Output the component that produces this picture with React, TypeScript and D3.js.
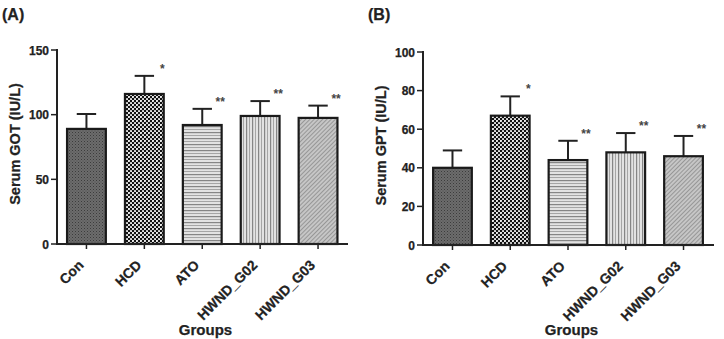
import React from "react";
import * as d3 from "d3";

const groups = ["Con", "HCD", "ATO", "HWND_G02", "HWND_G03"];
const gotMeans = [89, 116, 92, 99, 97.5];
const gotSD = [11.5, 14, 12.5, 11.5, 9.5];
const gptMeans = [40, 67, 44, 48, 46];
const gptSD = [9, 10, 10, 10, 10.5];
const sigMarks = ["", "*", "**", "**", "**"];
const gotTicks = [0, 50, 100, 150];
const gptTicks = [0, 20, 40, 60, 80, 100];

const FONT = "'Liberation Sans', Arial, sans-serif";
const patternIds = ["pCon", "pHCD", "pATO", "pG02", "pG03"];

function Patterns() {
  return (
    <defs>
      <pattern id="pCon" width="3" height="3" patternUnits="userSpaceOnUse">
        <rect width="3" height="3" fill="#6c6c6c" />
        <rect x="0" y="0" width="1" height="1" fill="#3c3c3c" />
        <rect x="1.5" y="1.5" width="1" height="1" fill="#4a4a4a" />
      </pattern>
      <pattern id="pHCD" width="4" height="4" patternUnits="userSpaceOnUse">
        <rect width="4" height="4" fill="#111" />
        <circle cx="1" cy="1" r="1.05" fill="#fff" />
        <circle cx="3" cy="3" r="1.05" fill="#eee" />
      </pattern>
      <pattern id="pATO" width="6" height="6" patternUnits="userSpaceOnUse">
        <rect width="6" height="6" fill="#e2e2e2" />
        <rect x="0" y="0" width="6" height="1.2" fill="#858585" />
        <rect x="0" y="3" width="6" height="1" fill="#a5a5a5" />
      </pattern>
      <pattern id="pG02" width="6" height="6" patternUnits="userSpaceOnUse">
        <rect width="6" height="6" fill="#e2e2e2" />
        <rect x="0" y="0" width="1.2" height="6" fill="#858585" />
        <rect x="3" y="0" width="1" height="6" fill="#a5a5a5" />
      </pattern>
      <pattern id="pG03" width="3" height="3" patternUnits="userSpaceOnUse" patternTransform="rotate(45)">
        <rect width="3" height="3" fill="#c6c6c6" />
        <rect x="0" y="0" width="1" height="3" fill="#979797" />
      </pattern>
    </defs>
  );
}

type PanelProps = {
  label: string;
  yTitle: string;
  means: number[];
  sds: number[];
  ticks: number[];
  yMax: number;
  axisX: number;
  axisEnd: number;
  yTop: number;
  yBottom: number;
  r0: number;
  r1: number;
};

function Panel(p: PanelProps) {
  const y = d3.scaleLinear().domain([0, p.yMax]).range([p.yBottom, p.yTop]);
  const x = d3.scaleBand<string>().domain(groups).range([p.r0, p.r1]).paddingInner(0.33).paddingOuter(0.165);
  const bw = x.bandwidth();
  const midY = (p.yTop + p.yBottom) / 2;
  const groupsX = (p.axisX + p.axisEnd) / 2 + 3;
  return (
    <g fontFamily={FONT} fontWeight="bold" fill="#222" stroke="#222" strokeWidth={0.25}>
      <text x={p.axisX - 55} y={20} fontSize={16}>{p.label}</text>
      {/* y title */}
      <text
        transform={`translate(${p.axisX - 37},${midY - 3}) rotate(-90)`}
        textAnchor="middle"
        fontSize={14.5}
      >
        {p.yTitle}
      </text>
      {/* bars */}
      {groups.map((g, i) => {
        const x0 = x(g)!;
        const top = y(p.means[i]);
        const errTop = y(p.means[i] + p.sds[i]);
        const cx = x0 + bw / 2;
        return (
          <g key={g} strokeWidth={0}>
            <line x1={cx} x2={cx} y1={top} y2={errTop} stroke="#222" strokeWidth={2} />
            <line x1={cx - bw / 4} x2={cx + bw / 4} y1={errTop} y2={errTop} stroke="#222" strokeWidth={2} />
            <rect x={x0} y={top} width={bw} height={p.yBottom - top} fill={`url(#${patternIds[i]})`} stroke="#1a1a1a" strokeWidth={2.2} />
            {sigMarks[i] && (
              <text x={cx + 18} y={errTop - 3} textAnchor="middle" fontSize={12} fill="#444">
                {sigMarks[i]}
              </text>
            )}
          </g>
        );
      })}
      {/* y axis */}
      <line x1={p.axisX} x2={p.axisX} y1={p.yTop - 1} y2={p.yBottom + 1} stroke="#222" strokeWidth={2} />
      {p.ticks.map((t) => (
        <g key={t}>
          <line x1={p.axisX - 6} x2={p.axisX} y1={y(t)} y2={y(t)} stroke="#222" strokeWidth={1.5} />
          <text x={p.axisX - 8} y={y(t) + 4.5} textAnchor="end" fontSize={12}>{t}</text>
        </g>
      ))}
      {/* x axis */}
      <line x1={p.axisX - 1} x2={p.axisEnd} y1={p.yBottom} y2={p.yBottom} stroke="#222" strokeWidth={2} />
      {groups.map((g) => {
        const cx = x(g)! + bw / 2;
        return (
          <g key={g}>
            <line x1={cx} x2={cx} y1={p.yBottom} y2={p.yBottom + 5} stroke="#222" strokeWidth={1.5} />
            <text
              transform={`translate(${cx - 2},${p.yBottom + 22}) rotate(-45)`}
              textAnchor="end"
              fontSize={14}
            >
              {g}
            </text>
          </g>
        );
      })}
      <text x={groupsX} y={335} textAnchor="middle" fontSize={15}>Groups</text>
    </g>
  );
}

export default function App() {
  return (
    <svg width={724} height={339} style={{ position: "absolute", left: 0, top: 0, background: "#fff" }}>
      <Patterns />
      <rect width={724} height={339} fill="#fff" />
      <Panel label="(A)" yTitle="Serum GOT (IU/L)" means={gotMeans} sds={gotSD} ticks={gotTicks} yMax={150}
        axisX={57} axisEnd={348} yTop={50} yBottom={244} r0={57.5} r1={347} />
      <Panel label="(B)" yTitle="Serum GPT (IU/L)" means={gptMeans} sds={gptSD} ticks={gptTicks} yMax={100}
        axisX={423} axisEnd={714} yTop={52} yBottom={245} r0={423.6} r1={712.4} />
    </svg>
  );
}
